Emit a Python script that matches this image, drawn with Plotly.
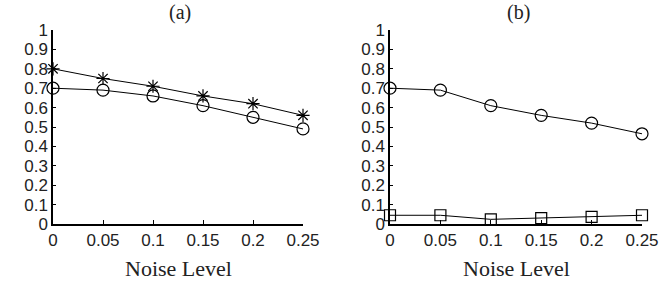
import plotly.graph_objects as go

noise = [0, 0.05, 0.1, 0.15, 0.2, 0.25]
a_star = [0.80, 0.75, 0.71, 0.66, 0.62, 0.56]
a_circle = [0.70, 0.69, 0.66, 0.61, 0.55, 0.49]
b_circle = [0.70, 0.69, 0.61, 0.56, 0.52, 0.465]
b_square = [0.045, 0.045, 0.024, 0.03, 0.037, 0.045]
xticks = [0, 0.05, 0.1, 0.15, 0.2, 0.25]
xticklabels = ["0", "0.05", "0.1", "0.15", "0.2", "0.25"]
yticks = [0, 0.1, 0.2, 0.3, 0.4, 0.5, 0.6, 0.7, 0.8, 0.9, 1]
yticklabels = ["0", "0.1", "0.2", "0.3", "0.4", "0.5", "0.6", "0.7", "0.8", "0.9", "1"]

fig = go.Figure()

def add(x, y, symbol, size, xa, ya):
    fig.add_trace(go.Scatter(
        x=x, y=y, mode="lines+markers", xaxis=xa, yaxis=ya,
        line=dict(color="black", width=1),
        marker=dict(symbol=symbol, size=size, color="black",
                    line=dict(color="black", width=1.2)),
        cliponaxis=False, showlegend=False))

add(noise, a_star, "asterisk-open", 11, "x", "y")
add(noise, a_circle, "circle-open", 12, "x", "y")
add(noise, b_circle, "circle-open", 12, "x2", "y2")
add(noise, b_square, "square-open", 11, "x2", "y2")

W, H = 664, 293

def px(x):
    return x / W

def py(y):
    return 1 - y / H

ydom = [py(224), py(30)]
tickfont = dict(family="Liberation Sans, Arial", size=17, color="#222")
xcommon = dict(range=[0, 0.25], tickvals=xticks, ticktext=xticklabels,
               showline=True, linecolor="black", linewidth=1.5,
               ticks="inside", ticklen=4, tickcolor="black",
               showgrid=False, zeroline=False, tickfont=tickfont, automargin=False)
ycommon = dict(range=[0, 1], tickvals=yticks, ticktext=yticklabels,
               showline=True, linecolor="black", linewidth=1.5,
               ticks="inside", ticklen=3, tickcolor="black",
               showgrid=False, zeroline=False, tickfont=tickfont, automargin=False)

fig.update_layout(
    width=W, height=H, margin=dict(l=0, r=0, t=0, b=0, autoexpand=False),
    plot_bgcolor="white", paper_bgcolor="white",
    xaxis=dict(domain=[px(53), px(303)], anchor="y", **xcommon),
    yaxis=dict(domain=ydom, anchor="x", **ycommon),
    xaxis2=dict(domain=[px(390), px(642)], anchor="y2", **xcommon),
    yaxis2=dict(domain=ydom, anchor="x2", **ycommon),
)

serif = dict(family="Liberation Serif, Times New Roman", size=20, color="#222")
for txt, xc in [("(a)", 180), ("(b)", 518)]:
    fig.add_annotation(text=txt, x=px(xc), y=py(13), xref="paper", yref="paper",
                       showarrow=False, font=serif, xanchor="center", yanchor="middle")
for xc in [178, 516]:
    fig.add_annotation(text="Noise Level", x=px(xc), y=py(268), xref="paper", yref="paper",
                       showarrow=False, font=dict(family="Liberation Serif, Times New Roman", size=22, color="#222"),
                       xanchor="center", yanchor="middle")

fig.write_html("out.html", config={"displayModeBar": False},
               post_script="document.body.style.margin='0';document.body.style.overflow='hidden';")
